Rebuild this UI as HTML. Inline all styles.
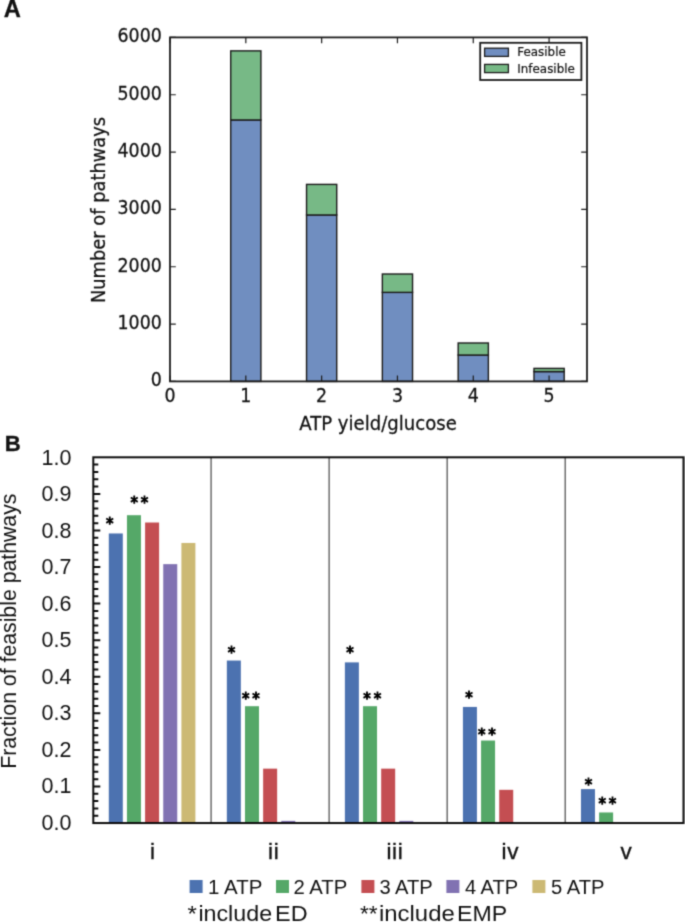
<!DOCTYPE html>
<html lang="en"><head><meta charset="utf-8"><title>Figure: ATP yield pathways</title>
<style>
html,body{margin:0;padding:0;background:#fff;}
body{width:685px;height:923px;overflow:hidden;}
svg{display:block;}
.dj{font-family:"DejaVu Sans","Liberation Sans",sans-serif;fill:#111;}
.ls{font-family:"Liberation Sans","DejaVu Sans",sans-serif;fill:#111;}
.pl{font-family:"Liberation Sans","DejaVu Sans",sans-serif;font-weight:bold;fill:#111;}
</style></head><body>
<svg width="685" height="923" viewBox="0 0 685 923">
<defs><filter id="soft" x="0" y="0" width="685" height="923" filterUnits="userSpaceOnUse" color-interpolation-filters="sRGB"><feConvolveMatrix order="3" kernelMatrix="0.0277 0.111 0.0277 0.111 0.4456 0.111 0.0277 0.111 0.0277" divisor="1" edgeMode="duplicate" preserveAlpha="true"/></filter></defs>
<rect x="0" y="0" width="685" height="923" fill="#ffffff"/>
<g filter="url(#soft)">
<rect x="0" y="0" width="685" height="923" fill="#ffffff"/>
<g id="panelA">
<text class="pl" x="3.7" y="17.0" font-size="23.7" stroke="#111" stroke-width="0.3">A</text>
<rect x="230.72" y="119.96" width="30.2" height="261.44" fill="#708ec0" stroke="#1c1c1c" stroke-width="1.4"/>
<rect x="230.72" y="50.87" width="30.2" height="69.09" fill="#77b986" stroke="#1c1c1c" stroke-width="1.4"/>
<rect x="306.54" y="214.96" width="30.2" height="166.44" fill="#708ec0" stroke="#1c1c1c" stroke-width="1.4"/>
<rect x="306.54" y="184.40" width="30.2" height="30.56" fill="#77b986" stroke="#1c1c1c" stroke-width="1.4"/>
<rect x="382.35" y="292.36" width="30.2" height="89.04" fill="#708ec0" stroke="#1c1c1c" stroke-width="1.4"/>
<rect x="382.35" y="274.01" width="30.2" height="18.35" fill="#77b986" stroke="#1c1c1c" stroke-width="1.4"/>
<rect x="458.17" y="355.03" width="30.2" height="26.37" fill="#708ec0" stroke="#1c1c1c" stroke-width="1.4"/>
<rect x="458.17" y="342.99" width="30.2" height="12.04" fill="#77b986" stroke="#1c1c1c" stroke-width="1.4"/>
<rect x="533.99" y="371.60" width="30.2" height="9.80" fill="#708ec0" stroke="#1c1c1c" stroke-width="1.4"/>
<rect x="533.99" y="368.39" width="30.2" height="3.21" fill="#77b986" stroke="#1c1c1c" stroke-width="1.4"/>
<rect x="170.0" y="37.4" width="417.0" height="344.0" fill="none" stroke="#1c1c1c" stroke-width="1.8"/>
<path d="M170.00 381.4v-5.8M170.00 37.4v5.8M245.82 381.4v-5.8M245.82 37.4v5.8M321.64 381.4v-5.8M321.64 37.4v5.8M397.45 381.4v-5.8M397.45 37.4v5.8M473.27 381.4v-5.8M473.27 37.4v5.8M549.09 381.4v-5.8M549.09 37.4v5.8M170.0 381.40h5.8M587.0 381.40h-5.8M170.0 324.07h5.8M587.0 324.07h-5.8M170.0 266.73h5.8M587.0 266.73h-5.8M170.0 209.40h5.8M587.0 209.40h-5.8M170.0 152.07h5.8M587.0 152.07h-5.8M170.0 94.73h5.8M587.0 94.73h-5.8M170.0 37.40h5.8M587.0 37.40h-5.8" stroke="#1c1c1c" stroke-width="1.2" fill="none"/>
<text class="dj" transform="translate(170.00,402.30) scale(1,1.075)" font-size="17.45" text-anchor="middle" stroke="#111" stroke-width="0.25">0</text>
<text class="dj" transform="translate(245.82,402.30) scale(1,1.075)" font-size="17.45" text-anchor="middle" stroke="#111" stroke-width="0.25">1</text>
<text class="dj" transform="translate(321.64,402.30) scale(1,1.075)" font-size="17.45" text-anchor="middle" stroke="#111" stroke-width="0.25">2</text>
<text class="dj" transform="translate(397.45,402.30) scale(1,1.075)" font-size="17.45" text-anchor="middle" stroke="#111" stroke-width="0.25">3</text>
<text class="dj" transform="translate(473.27,402.30) scale(1,1.075)" font-size="17.45" text-anchor="middle" stroke="#111" stroke-width="0.25">4</text>
<text class="dj" transform="translate(549.09,402.30) scale(1,1.075)" font-size="17.45" text-anchor="middle" stroke="#111" stroke-width="0.25">5</text>
<text class="dj" transform="translate(161.90,386.30) scale(1,1.075)" font-size="17.45" text-anchor="end" stroke="#111" stroke-width="0.25">0</text>
<text class="dj" transform="translate(161.90,328.97) scale(1,1.075)" font-size="17.45" text-anchor="end" stroke="#111" stroke-width="0.25">1000</text>
<text class="dj" transform="translate(161.90,271.63) scale(1,1.075)" font-size="17.45" text-anchor="end" stroke="#111" stroke-width="0.25">2000</text>
<text class="dj" transform="translate(161.90,214.30) scale(1,1.075)" font-size="17.45" text-anchor="end" stroke="#111" stroke-width="0.25">3000</text>
<text class="dj" transform="translate(161.90,156.97) scale(1,1.075)" font-size="17.45" text-anchor="end" stroke="#111" stroke-width="0.25">4000</text>
<text class="dj" transform="translate(161.90,99.63) scale(1,1.075)" font-size="17.45" text-anchor="end" stroke="#111" stroke-width="0.25">5000</text>
<text class="dj" transform="translate(161.90,42.30) scale(1,1.075)" font-size="17.45" text-anchor="end" stroke="#111" stroke-width="0.25">6000</text>
<text class="dj" transform="translate(378.00,429.70) scale(1,1.05)" font-size="18.1" text-anchor="middle" stroke="#111" stroke-width="0.25">ATP yield/glucose</text>
<text class="dj" transform="translate(105.20,210.00) rotate(-90) scale(1,1.05)" font-size="17.85" text-anchor="middle" stroke="#111" stroke-width="0.25">Number of pathways</text>
<rect x="480.2" y="42.8" width="101.2" height="37.2" fill="#fff" stroke="#1c1c1c" stroke-width="1.8"/>
<rect x="484.6" y="48.2" width="23.8" height="8.2" fill="#708ec0" stroke="#1c1c1c" stroke-width="1.3"/>
<rect x="484.6" y="64.4" width="23.8" height="8.2" fill="#77b986" stroke="#1c1c1c" stroke-width="1.3"/>
<text class="dj" transform="translate(517.30,56.30) scale(1,1.08)" font-size="11.9" stroke="#111" stroke-width="0.2">Feasible</text>
<text class="dj" transform="translate(517.30,73.20) scale(1,1.08)" font-size="11.9" stroke="#111" stroke-width="0.2">Infeasible</text>
</g>
<g id="panelB">
<text class="pl" x="4.7" y="451.3" font-size="22.2" stroke="#111" stroke-width="0.3">B</text>
<line x1="211.09" y1="457.3" x2="211.09" y2="823.05" stroke="#5c5c5c" stroke-width="1.35"/>
<line x1="329.13" y1="457.3" x2="329.13" y2="823.05" stroke="#5c5c5c" stroke-width="1.35"/>
<line x1="447.17" y1="457.3" x2="447.17" y2="823.05" stroke="#5c5c5c" stroke-width="1.35"/>
<line x1="565.21" y1="457.3" x2="565.21" y2="823.05" stroke="#5c5c5c" stroke-width="1.35"/>
<rect x="108.80" y="533.46" width="14.0" height="289.59" fill="#4c72b0"/>
<rect x="126.95" y="515.20" width="14.0" height="307.85" fill="#55a868"/>
<rect x="145.10" y="522.51" width="14.0" height="300.54" fill="#c44e52"/>
<rect x="163.25" y="564.14" width="14.0" height="258.91" fill="#8172b2"/>
<rect x="181.40" y="542.96" width="14.0" height="280.09" fill="#ccb974"/>
<rect x="226.84" y="660.55" width="14.0" height="162.50" fill="#4c72b0"/>
<rect x="244.99" y="706.20" width="14.0" height="116.85" fill="#55a868"/>
<rect x="263.14" y="768.65" width="14.0" height="54.40" fill="#c44e52"/>
<rect x="281.29" y="820.87" width="14.0" height="2.18" fill="#8172b2"/>
<rect x="344.88" y="662.38" width="14.0" height="160.67" fill="#4c72b0"/>
<rect x="363.03" y="706.20" width="14.0" height="116.85" fill="#55a868"/>
<rect x="381.18" y="768.65" width="14.0" height="54.40" fill="#c44e52"/>
<rect x="399.33" y="820.87" width="14.0" height="2.18" fill="#8172b2"/>
<rect x="462.92" y="706.93" width="14.0" height="116.12" fill="#4c72b0"/>
<rect x="481.07" y="740.53" width="14.0" height="82.52" fill="#55a868"/>
<rect x="499.22" y="789.83" width="14.0" height="33.22" fill="#c44e52"/>
<rect x="580.96" y="789.10" width="14.0" height="33.95" fill="#4c72b0"/>
<rect x="599.11" y="812.47" width="14.0" height="10.58" fill="#55a868"/>
<rect x="93.3" y="457.3" width="590.2" height="365.74999999999994" fill="none" stroke="#0d0d0d" stroke-width="2.0"/>
<path d="M93.3 815.73h5M93.3 808.42h5M93.3 801.10h5M93.3 793.79h5M93.3 786.47h7M93.3 779.16h5M93.3 771.84h5M93.3 764.53h5M93.3 757.21h5M93.3 749.90h7M93.3 742.58h5M93.3 735.27h5M93.3 727.95h5M93.3 720.64h5M93.3 713.32h7M93.3 706.01h5M93.3 698.69h5M93.3 691.38h5M93.3 684.06h5M93.3 676.75h7M93.3 669.43h5M93.3 662.12h5M93.3 654.80h5M93.3 647.49h5M93.3 640.17h7M93.3 632.86h5M93.3 625.54h5M93.3 618.23h5M93.3 610.91h5M93.3 603.60h7M93.3 596.28h5M93.3 588.97h5M93.3 581.65h5M93.3 574.34h5M93.3 567.02h7M93.3 559.71h5M93.3 552.39h5M93.3 545.08h5M93.3 537.76h5M93.3 530.45h7M93.3 523.13h5M93.3 515.82h5M93.3 508.50h5M93.3 501.19h5M93.3 493.88h7M93.3 486.56h5M93.3 479.25h5M93.3 471.93h5M93.3 464.62h5" stroke="#0d0d0d" stroke-width="2.0" fill="none"/>
<text class="ls" x="71.5" y="830.00" font-size="21.5" text-anchor="end">0.0</text>
<text class="ls" x="71.5" y="793.46" font-size="21.5" text-anchor="end">0.1</text>
<text class="ls" x="71.5" y="756.92" font-size="21.5" text-anchor="end">0.2</text>
<text class="ls" x="71.5" y="720.38" font-size="21.5" text-anchor="end">0.3</text>
<text class="ls" x="71.5" y="683.84" font-size="21.5" text-anchor="end">0.4</text>
<text class="ls" x="71.5" y="647.30" font-size="21.5" text-anchor="end">0.5</text>
<text class="ls" x="71.5" y="610.76" font-size="21.5" text-anchor="end">0.6</text>
<text class="ls" x="71.5" y="574.22" font-size="21.5" text-anchor="end">0.7</text>
<text class="ls" x="71.5" y="537.68" font-size="21.5" text-anchor="end">0.8</text>
<text class="ls" x="71.5" y="501.14" font-size="21.5" text-anchor="end">0.9</text>
<text class="ls" x="71.5" y="464.60" font-size="21.5" text-anchor="end">1.0</text>
<text class="ls" transform="translate(16.4,768.8) rotate(-90)" font-size="21.6" textLength="275.2" lengthAdjust="spacingAndGlyphs">Fraction of feasible pathways</text>
<text class="ls" x="149.9" y="859.3" font-size="22.5" letter-spacing="0.7" stroke="#111" stroke-width="0.35">i</text>
<text class="ls" x="268.1" y="859.3" font-size="22.5" letter-spacing="0.7" stroke="#111" stroke-width="0.35">ii</text>
<text class="ls" x="386.4" y="859.3" font-size="22.5" letter-spacing="0.7" stroke="#111" stroke-width="0.35">iii</text>
<text class="ls" x="501.5" y="859.3" font-size="22.5" letter-spacing="0.7" stroke="#111" stroke-width="0.35">iv</text>
<text class="ls" x="620.5" y="859.3" font-size="22.5" letter-spacing="0.7" stroke="#111" stroke-width="0.35">v</text>
<text class="dj" x="106.05" y="529.00" font-size="15.0" letter-spacing="2.8" style="fill:#000" stroke="#000" stroke-width="0.95">*</text>
<text class="dj" x="130.45" y="508.20" font-size="15.0" letter-spacing="2.8" style="fill:#000" stroke="#000" stroke-width="0.95">**</text>
<text class="dj" x="227.75" y="657.70" font-size="15.0" letter-spacing="2.8" style="fill:#000" stroke="#000" stroke-width="0.95">*</text>
<text class="dj" x="241.95" y="704.20" font-size="15.0" letter-spacing="2.8" style="fill:#000" stroke="#000" stroke-width="0.95">**</text>
<text class="dj" x="346.35" y="657.80" font-size="15.0" letter-spacing="2.8" style="fill:#000" stroke="#000" stroke-width="0.95">*</text>
<text class="dj" x="363.35" y="704.20" font-size="15.0" letter-spacing="2.8" style="fill:#000" stroke="#000" stroke-width="0.95">**</text>
<text class="dj" x="465.35" y="703.20" font-size="15.0" letter-spacing="2.8" style="fill:#000" stroke="#000" stroke-width="0.95">*</text>
<text class="dj" x="478.05" y="739.70" font-size="15.0" letter-spacing="2.8" style="fill:#000" stroke="#000" stroke-width="0.95">**</text>
<text class="dj" x="584.65" y="789.80" font-size="15.0" letter-spacing="2.8" style="fill:#000" stroke="#000" stroke-width="0.95">*</text>
<text class="dj" x="598.45" y="808.90" font-size="15.0" letter-spacing="2.8" style="fill:#000" stroke="#000" stroke-width="0.95">**</text>
<rect x="189.6" y="880" width="13" height="13" fill="#4c72b0"/>
<text class="ls" x="208.1" y="893.9" font-size="20.5" textLength="54.24" lengthAdjust="spacingAndGlyphs">1 ATP</text>
<rect x="276" y="880" width="13" height="13" fill="#55a868"/>
<text class="ls" x="293.4" y="893.9" font-size="20.5" textLength="53.86" lengthAdjust="spacingAndGlyphs">2 ATP</text>
<rect x="361.4" y="880" width="13" height="13" fill="#c44e52"/>
<text class="ls" x="379.4" y="893.9" font-size="20.5" textLength="53.44" lengthAdjust="spacingAndGlyphs">3 ATP</text>
<rect x="446.4" y="880" width="13" height="13" fill="#8172b2"/>
<text class="ls" x="465" y="893.9" font-size="20.5" textLength="53.04" lengthAdjust="spacingAndGlyphs">4 ATP</text>
<rect x="532.4" y="880" width="13" height="13" fill="#ccb974"/>
<text class="ls" x="551" y="893.9" font-size="20.5" textLength="53.44" lengthAdjust="spacingAndGlyphs">5 ATP</text>
<text class="ls" y="921.3" font-size="22.6"><tspan x="187.4" textLength="9.36" lengthAdjust="spacingAndGlyphs">*</tspan><tspan x="198.4" textLength="73.69" lengthAdjust="spacingAndGlyphs">include</tspan> <tspan x="275" textLength="32.55" lengthAdjust="spacingAndGlyphs">ED</tspan></text>
<text class="ls" y="921.3" font-size="22.6"><tspan x="360" textLength="17.59" lengthAdjust="spacingAndGlyphs">**</tspan><tspan x="379.0" textLength="75.76" lengthAdjust="spacingAndGlyphs">include</tspan> <tspan x="457" textLength="50.03" lengthAdjust="spacingAndGlyphs">EMP</tspan></text>
</g>
</g>
</svg></body></html>
